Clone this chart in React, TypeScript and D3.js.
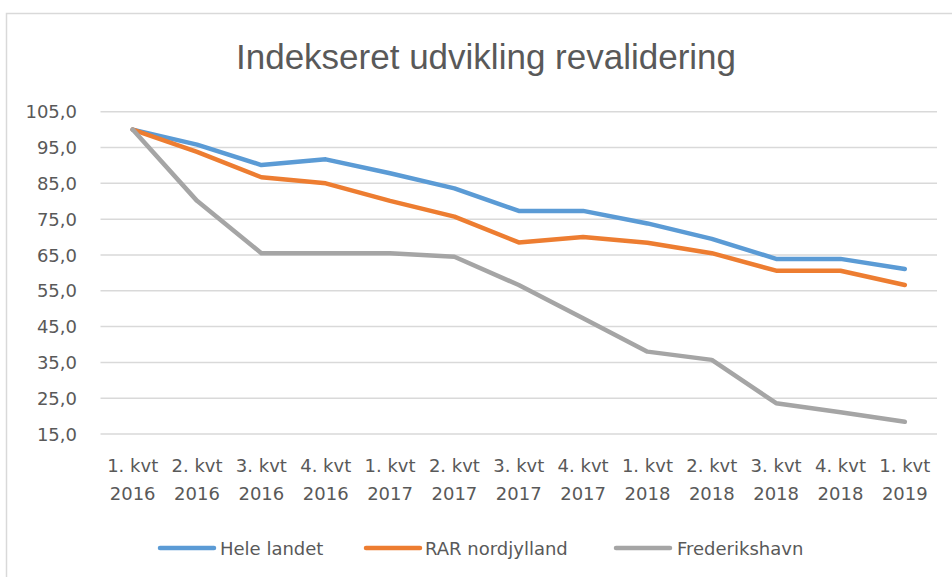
import React from "react";
import { scalePoint, scaleLinear, line } from "d3";

const width = 952;
const height = 577;

// data
const quarters = ["1. kvt", "2. kvt", "3. kvt", "4. kvt", "1. kvt", "2. kvt", "3. kvt", "4. kvt", "1. kvt", "2. kvt", "3. kvt", "4. kvt", "1. kvt"];
const years = ["2016", "2016", "2016", "2016", "2017", "2017", "2017", "2017", "2018", "2018", "2018", "2018", "2019"];
const heleLandet = [100, 95.8, 90.1, 91.7, 87.8, 83.6, 77.3, 77.3, 73.8, 69.5, 63.9, 63.9, 61.1];
const rarNordjylland = [100, 93.8, 86.7, 85.0, 80.1, 75.7, 68.5, 70.0, 68.4, 65.5, 60.6, 60.6, 56.6];
const frederikshavn = [100, 80.1, 65.5, 65.5, 65.5, 64.5, 56.6, 47.3, 38.0, 35.7, 23.6, 21.1, 18.4];
const yTicks = [15, 25, 35, 45, 55, 65, 75, 85, 95, 105];

const series = [
  { name: "Hele landet", values: heleLandet, color: "#5B9BD5" },
  { name: "RAR nordjylland", values: rarNordjylland, color: "#ED7D31" },
  { name: "Frederikshavn", values: frederikshavn, color: "#A5A5A5" },
];

const plotLeft = 100.5;
const plotRight = 937;
const plotTop = 111.7;
const plotBottom = 434;

const textColor = "#595959";
const font = "DejaVu Sans";

const x = scalePoint<number>()
  .domain(quarters.map((_, i) => i))
  .range([plotLeft, plotRight])
  .padding(0.5);

const y = scaleLinear().domain([15, 105]).range([plotBottom, plotTop]);

const lineGen = line<number>()
  .x((_, i) => x(i) as number)
  .y(d => y(d));

// legend layout
const legendItems = [
  { lx: 160, tx: 220 },
  { lx: 366, tx: 425 },
  { lx: 616, tx: 677 },
];
const legendY = 548;

export default function App() {
  return (
    <svg
      width={width}
      height={height}
      style={{ position: "absolute", left: 0, top: 0, background: "white" }}
    >
      {/* chart border */}
      <path d={`M6.5,${height} V13.5 H${width}`} fill="none" stroke="#D9D9D9" strokeWidth={1.5} />

      {/* title */}
      <text
        x={486}
        y={69}
        textAnchor="middle"
        fontFamily="Liberation Sans"
        fontSize={35}
        fill={textColor}
      >
        Indekseret udvikling revalidering
      </text>

      {/* gridlines + y labels */}
      {yTicks.map(t => (
        <g key={t}>
          <line x1={plotLeft} x2={plotRight} y1={y(t)} y2={y(t)} stroke="#D9D9D9" strokeWidth={1.5} />
          <text
            x={77}
            y={y(t) + 6.6}
            textAnchor="end"
            fontFamily={font}
            fontSize={18}
            fill={textColor}
          >
            {t.toFixed(1).replace(".", ",")}
          </text>
        </g>
      ))}

      {/* x labels */}
      {quarters.map((q, i) => (
        <g key={i}>
          <text x={x(i)} y={471.7} textAnchor="middle" fontFamily={font} fontSize={18} fill={textColor}>
            {q}
          </text>
          <text x={x(i)} y={500} textAnchor="middle" fontFamily={font} fontSize={18} fill={textColor}>
            {years[i]}
          </text>
        </g>
      ))}

      {/* lines */}
      {series.map(s => (
        <path
          key={s.name}
          d={lineGen(s.values) || ""}
          fill="none"
          stroke={s.color}
          strokeWidth={4.5}
          strokeLinejoin="round"
          strokeLinecap="round"
        />
      ))}

      {/* legend */}
      {series.map((s, i) => (
        <g key={s.name}>
          <line
            x1={legendItems[i].lx}
            x2={legendItems[i].lx + 54}
            y1={legendY}
            y2={legendY}
            stroke={s.color}
            strokeWidth={4.5}
            strokeLinecap="round"
          />
          <text
            x={legendItems[i].tx}
            y={legendY + 7}
            fontFamily={font}
            fontSize={18}
            fill={textColor}
          >
            {s.name}
          </text>
        </g>
      ))}
    </svg>
  );
}
